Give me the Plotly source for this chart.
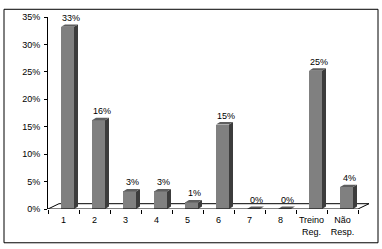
import plotly.graph_objects as go

# ---- data ----
categories = ["1", "2", "3", "4", "5", "6", "7", "8", "Treino<br>Reg.", "Não<br>Resp."]
values = [33.2, 16.2, 3.2, 3.2, 1.2, 15.4, 0.0, 0.0, 25.2, 4.0]
value_labels = ["33%", "16%", "3%", "3%", "1%", "15%", "0%", "0%", "25%", "4%"]
y_tickvals = [0, 5, 10, 15, 20, 25, 30, 35]
y_ticktext = ["0%", "5%", "10%", "15%", "20%", "25%", "30%", "35%"]

# ---- geometry (pixels -> axis units) ----
W, H = 382, 249
ML, MT, MB = 48, 12, 38
PX_PER_CAT = 31.0
PLOT_H = H - MT - MB
PX_PER_PCT = PLOT_H / 35.0

floor_dx = 11 / PX_PER_CAT
floor_dy = 5.5 / PX_PER_PCT
bar_w = 13 / PX_PER_CAT
bar_off = -2.5 / PX_PER_CAT
bdx = 4 / PX_PER_CAT
bdy = 2.5 / PX_PER_PCT

x_min, x_max = -0.5, len(categories) - 0.5
plot_w = PX_PER_CAT * (x_max + floor_dx - x_min)
MR = W - ML - plot_w

pos = list(range(len(categories)))

FRONT = "#808080"
SIDE = "#3c3c3c"
TOP = "#5e5e5e"
FONT = dict(family="Liberation Sans, Arial, sans-serif", size=9, color="black")

fig = go.Figure()

fig.add_trace(go.Bar(
    x=pos, y=values, width=bar_w, offset=bar_off,
    marker=dict(color=FRONT, line=dict(width=0)),
    hoverinfo="skip", showlegend=False,
))

# side and top faces
sx, sy = [], []
tx, ty = [], []
for p, v in zip(pos, values):
    xl = p + bar_off
    xr = xl + bar_w
    sx += [xr, xr + bdx, xr + bdx, xr, xr, None]
    sy += [0, bdy, v + bdy, v, 0, None]
    tx += [xl, xl + bdx, xr + bdx, xr, xl, None]
    ty += [v, v + bdy, v + bdy, v, v, None]

fig.add_trace(go.Scatter(x=sx, y=sy, mode="lines", fill="toself", fillcolor=SIDE,
                         line=dict(width=0, color=SIDE), hoverinfo="skip", showlegend=False))
fig.add_trace(go.Scatter(x=tx, y=ty, mode="lines", fill="toself", fillcolor=TOP,
                         line=dict(width=0, color=TOP), hoverinfo="skip", showlegend=False))

# data labels
for p, v, t in zip(pos, values, value_labels):
    fig.add_annotation(x=p + bar_off + bar_w / 2, y=v, text=t, showarrow=False,
                       xref="x", yref="y", xanchor="center", yanchor="middle",
                       xshift=3, yshift=9, font=FONT)

shapes = [
    # floor (behind bars)
    dict(type="line", xref="x", yref="y", x0=x_min, y0=0, x1=x_min + floor_dx, y1=floor_dy,
         line=dict(color="black", width=1), layer="below"),
    dict(type="line", xref="x", yref="y", x0=x_min + floor_dx, y0=floor_dy, x1=x_max + floor_dx, y1=floor_dy,
         line=dict(color="black", width=1), layer="below"),
    dict(type="line", xref="x", yref="y", x0=x_max, y0=0, x1=x_max + floor_dx, y1=floor_dy,
         line=dict(color="black", width=1), layer="below"),
    # front axis line
    dict(type="line", xref="x", yref="y", x0=x_min, y0=0, x1=x_max, y1=0,
         line=dict(color="black", width=1), layer="above"),
    # outer frame
    dict(type="rect", xref="paper", yref="paper",
         x0=(4 - ML) / plot_w, x1=(378 - ML) / plot_w,
         y0=(H - MB - 246) / PLOT_H, y1=(H - MB - 4) / PLOT_H,
         line=dict(color="black", width=1), fillcolor="rgba(0,0,0,0)", layer="below"),
]

fig.update_layout(
    width=W, height=H,
    margin=dict(l=ML, r=MR, t=MT, b=MB, pad=0),
    paper_bgcolor="white", plot_bgcolor="white",
    font=FONT, shapes=shapes, showlegend=False, bargap=0,
    xaxis=dict(range=[x_min, x_max + floor_dx], tickmode="array", tickvals=pos, ticktext=categories,
               ticks="", showline=False, showgrid=False, zeroline=False, tickfont=FONT,
               ticklabelstandoff=4,
               minor=dict(tickmode="array", tickvals=[x_min + i for i in range(len(categories) + 1)],
                          ticks="outside", ticklen=4, tickcolor="black", tickwidth=1, showgrid=False),
               fixedrange=True),
    yaxis=dict(range=[0, 35], tickmode="array", tickvals=y_tickvals, ticktext=y_ticktext,
               ticks="outside", ticklen=3, tickcolor="black", showline=True, linecolor="black",
               linewidth=1, showgrid=False, zeroline=False, tickfont=FONT, ticklabelstandoff=2,
               fixedrange=True),
)

fig.write_html("out.html", config={"displayModeBar": False})
